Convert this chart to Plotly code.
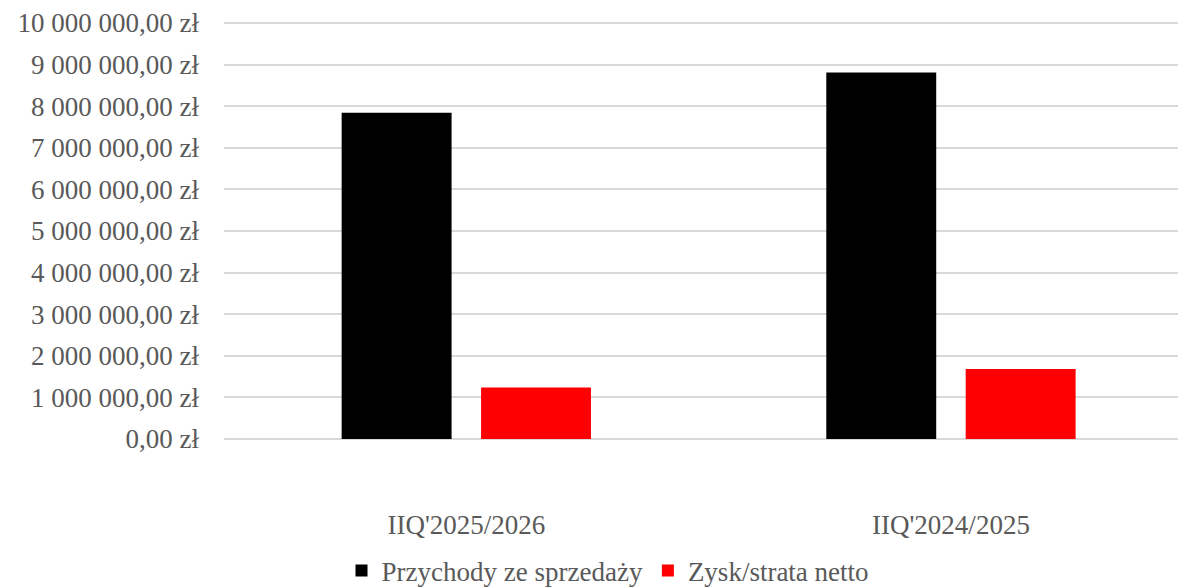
import plotly.graph_objects as go

categories = ["IIQ'2025/2026", "IIQ'2024/2025"]
series_names = ["Przychody ze sprzedaży", "Zysk/strata netto"]
revenue = [7840000, 8810000]
net_profit = [1240000, 1680000]
tick_values = [0, 1000000, 2000000, 3000000, 4000000, 5000000,
               6000000, 7000000, 8000000, 9000000, 10000000]
tick_labels = ["0,00 zł", "1 000 000,00 zł", "2 000 000,00 zł", "3 000 000,00 zł",
               "4 000 000,00 zł", "5 000 000,00 zł", "6 000 000,00 zł",
               "7 000 000,00 zł", "8 000 000,00 zł", "9 000 000,00 zł",
               "10 000 000,00 zł"]
colors = ["#000000", "#FF0000"]

FONT = "Liberation Serif"
TXT = "#595959"

fig = go.Figure()
for name, vals, col in zip(series_names, [revenue, net_profit], colors):
    fig.add_trace(go.Bar(
        x=categories, y=vals, name=name,
        marker=dict(color=col, line=dict(width=0)),
        hoverinfo="skip",
    ))

W, H = 1178, 580
fig.update_layout(
    width=W, height=H,
    margin=dict(l=216, r=0, t=13, b=147),
    paper_bgcolor="white", plot_bgcolor="white",
    barmode="group", bargap=0.4247, bargroupgap=0.2115,
    font=dict(family=FONT, size=27, color=TXT),
    showlegend=True,
    legend=dict(
        orientation="h", xref="container", x=600 / W, xanchor="center",
        yref="container", y=17 / H, yanchor="middle",
        font=dict(family=FONT, size=27, color=TXT),
        itemsizing="constant", traceorder="normal",
        bgcolor="rgba(0,0,0,0)",
    ),
    xaxis=dict(
        type="category", range=[-0.5, 1.485],
        showgrid=False, showline=False, zeroline=False, ticks="",
        ticklabelstandoff=65,
        tickfont=dict(family=FONT, size=27, color=TXT),
    ),
    yaxis=dict(
        range=[-48000, 10048000], tickmode="array",
        tickvals=tick_values, ticktext=tick_labels,
        showgrid=True, gridcolor="#d9d9d9", gridwidth=1.5,
        zeroline=False, showline=False, ticks="",
        ticklabelstandoff=24,
        tickfont=dict(family=FONT, size=27, color=TXT),
    ),
)

fig.write_html("out.html")
